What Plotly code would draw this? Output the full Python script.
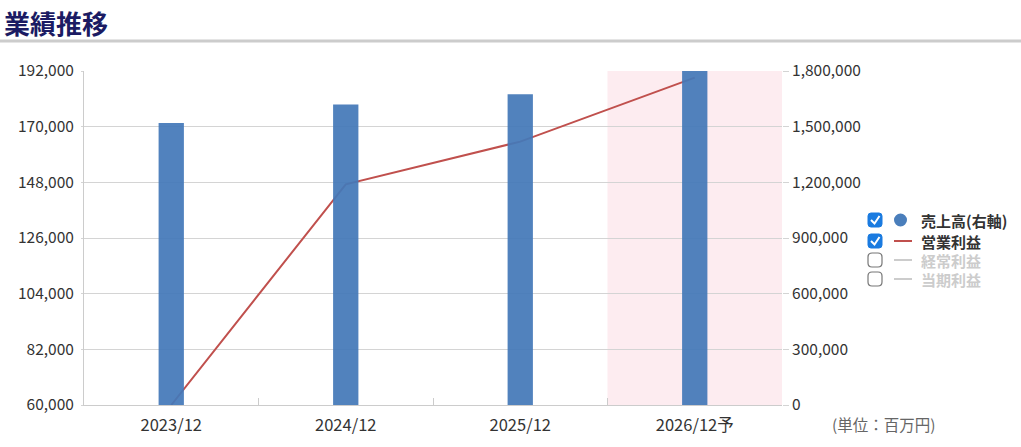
import plotly.graph_objects as go

# values
periods = ["2023/12", "2024/12", "2025/12", "2026/12予"]
sales = [1520000, 1620000, 1675000, 1800000]          # 売上高 (right axis)
operating_profit = [60000, 147200, 164100, 189400]    # 営業利益 (left axis)

left_ticks = [60000, 82000, 104000, 126000, 148000, 170000, 192000]
right_ticks = [0, 300000, 600000, 900000, 1200000, 1500000, 1800000]

legend_names = ["売上高(右軸)", "営業利益", "経常利益", "当期利益"]
legend_checked = [True, True, False, False]

W, H = 1021, 447
L, R, T, B = 84, 782, 71, 405
FONT = "Noto Sans CJK JP"


def px(x):
    return (x - L) / (R - L)


def py(y):
    return (B - y) / (B - T)


fig = go.Figure()

fig.add_trace(go.Scatter(
    x=periods, y=operating_profit, mode="lines", name="営業利益",
    line=dict(color="#c0504d", width=2), yaxis="y", cliponaxis=True,
))
fig.add_trace(go.Bar(
    x=periods, y=sales, name="売上高(右軸)", yaxis="y2",
    marker=dict(color="#4479b9", line=dict(width=0)), width=0.145, opacity=0.93,
))

shapes = []
annotations = []

# forecast column shading
shapes.append(dict(type="rect", xref="x", yref="paper", x0=2.5, x1=3.5, y0=0, y1=1,
                   fillcolor="#fdecf0", line=dict(width=0), layer="below"))

# title and rule
annotations.append(dict(text="<b>業績推移</b>", xref="paper", yref="paper",
                        x=px(2), y=py(22), xanchor="left", yanchor="middle", showarrow=False,
                        font=dict(family=FONT, size=26, color="#1b1b63")))
shapes.append(dict(type="line", xref="paper", yref="paper", x0=px(0), x1=px(W), y0=py(41), y1=py(41),
                   line=dict(color="#cccccc", width=3)))

# unit note
annotations.append(dict(text="(単位：百万円)", xref="paper", yref="paper", x=px(830), y=py(424),
                        xanchor="left", yanchor="middle", showarrow=False,
                        font=dict(family=FONT, size=15.5, color="#666666")))


def rounded_box(x0, y0, s, r):
    pts = [
        f"M {px(x0 + r)},{py(y0)}",
        f"L {px(x0 + s - r)},{py(y0)}",
        f"Q {px(x0 + s)},{py(y0)} {px(x0 + s)},{py(y0 + r)}",
        f"L {px(x0 + s)},{py(y0 + s - r)}",
        f"Q {px(x0 + s)},{py(y0 + s)} {px(x0 + s - r)},{py(y0 + s)}",
        f"L {px(x0 + r)},{py(y0 + s)}",
        f"Q {px(x0)},{py(y0 + s)} {px(x0)},{py(y0 + s - r)}",
        f"L {px(x0)},{py(y0 + r)}",
        f"Q {px(x0)},{py(y0)} {px(x0 + r)},{py(y0)} Z",
    ]
    return " ".join(pts)


# custom legend with checkboxes
row_y = [220, 241, 260, 279]
for i, name in enumerate(legend_names):
    cy = row_y[i]
    if legend_checked[i]:
        shapes.append(dict(type="path", xref="paper", yref="paper", path=rounded_box(868, cy - 7, 14, 3),
                           fillcolor="#1a7be0", line=dict(color="#1a7be0", width=1)))
        shapes.append(dict(type="path", xref="paper", yref="paper",
                           path=f"M {px(871)},{py(cy)} L {px(874.5)},{py(cy + 3.5)} L {px(879.5)},{py(cy - 4)}",
                           line=dict(color="white", width=2)))
    else:
        shapes.append(dict(type="path", xref="paper", yref="paper", path=rounded_box(868, cy - 7, 14, 4),
                           fillcolor="white", line=dict(color="#777777", width=1.2)))
    if i == 0:
        shapes.append(dict(type="circle", xref="paper", yref="paper",
                           x0=px(894), x1=px(907), y0=py(cy - 6.5), y1=py(cy + 6.5),
                           fillcolor="#4a7ebb", line=dict(width=0)))
    else:
        col = "#c0504d" if legend_checked[i] else "#cccccc"
        shapes.append(dict(type="line", xref="paper", yref="paper", x0=px(894), x1=px(912),
                           y0=py(cy), y1=py(cy), line=dict(color=col, width=2)))
    tcol = "#333333" if legend_checked[i] else "#cccccc"
    annotations.append(dict(text=f"<b>{name}</b>", xref="paper", yref="paper", x=px(919), y=py(cy),
                            xanchor="left", yanchor="middle", showarrow=False,
                            font=dict(family=FONT, size=15, color=tcol)))

fig.update_layout(
    width=W, height=H,
    margin=dict(l=L, r=W - R, t=T, b=H - B, pad=0),
    paper_bgcolor="white", plot_bgcolor="rgba(0,0,0,0)",
    showlegend=False,
    font=dict(family=FONT, size=15, color="#333333"),
    xaxis=dict(type="category", categoryorder="array", categoryarray=periods,
               showline=True, linecolor="#cccccc", linewidth=1,
               ticks="inside", tickson="boundaries", ticklen=7, tickcolor="#cccccc",
               showgrid=False, ticklabelstandoff=5, tickfont=dict(size=16.5, color="#333333")),
    yaxis=dict(range=[left_ticks[0], left_ticks[-1]], tickvals=left_ticks, tickformat=",",
               showline=True, linecolor="#cccccc", gridcolor="#d4d4d4", zeroline=False,
               ticks="outside", ticklen=2, tickcolor="#d4d4d4", ticklabelstandoff=4,
               tickfont=dict(size=15.5, color="#333333")),
    yaxis2=dict(range=[right_ticks[0], right_ticks[-1]], tickvals=right_ticks, tickformat=",",
                overlaying="y", side="right", showgrid=False, showline=False, zeroline=False,
                ticks="outside", ticklen=6, tickcolor="#d4d4d4", ticklabelstandoff=0,
                tickfont=dict(size=15.5, color="#333333")),
    shapes=shapes,
    annotations=annotations,
    bargap=0.5,
)

fig.write_html("out.html", config={"displayModeBar": False},
               post_script="document.body.style.margin='0';")
